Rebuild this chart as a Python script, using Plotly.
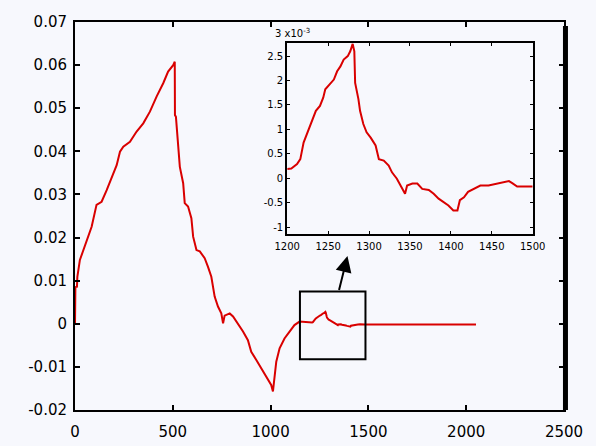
import plotly.graph_objects as go

# ---- data ----
sample_index = [0, 2, 10, 12, 25, 43, 60, 85, 110, 136, 162, 187, 213, 230, 247, 281, 315, 349,
                383, 417, 451, 476, 502, 510, 511, 516, 527, 536, 553, 561, 578, 595, 604, 621,
                638, 663, 680, 697, 714, 731, 748, 757, 765, 791, 808, 833, 859, 884, 901, 927,
                952, 978, 1003, 1012, 1029, 1046, 1071, 1097, 1122, 1148,
                1200, 1205, 1212, 1216, 1220, 1224, 1228, 1231, 1235, 1240, 1244, 1246.5, 1252,
                1257, 1261, 1265, 1269, 1274, 1277, 1280, 1282, 1283, 1287, 1289, 1293, 1297,
                1302, 1308, 1312, 1318, 1324, 1328, 1334, 1340, 1344, 1346.5, 1353, 1359, 1365,
                1373, 1379, 1385, 1391, 1397, 1403, 1408, 1411, 1416, 1421, 1428, 1436, 1446,
                1457, 1465, 1471, 1475, 1481, 1500, 2050]
amplitude = [0.0, 0.0085, 0.0086, 0.0109, 0.0148, 0.0171, 0.0194, 0.0225, 0.0276, 0.0283,
             0.0310, 0.0337, 0.0368, 0.0399, 0.0411, 0.0422, 0.0446, 0.0465, 0.0492, 0.0527,
             0.0558, 0.0585, 0.0600, 0.0608, 0.0484, 0.0480, 0.0419, 0.0364, 0.0326, 0.0280,
             0.0272, 0.0245, 0.0202, 0.0171, 0.0168, 0.0152, 0.0132, 0.0109, 0.0063, 0.0040,
             0.0024, 0.0001, 0.0019, 0.0024, 0.0017, 0.0001, -0.0018, -0.0038, -0.0065,
             -0.0084, -0.0103, -0.0126, -0.0142, -0.0157, -0.0088, -0.0057, -0.0034, -0.0018,
             -0.0003, 0.0005,
             0.00019, 0.00020, 0.00029, 0.00039, 0.00073, 0.00090, 0.00107, 0.00121, 0.00138,
             0.00148, 0.00165, 0.00182, 0.00192, 0.00202, 0.00219, 0.00229, 0.00243, 0.00250,
             0.00260, 0.00275, 0.00260, 0.00195, 0.00162, 0.00138, 0.00111, 0.00094, 0.00083,
             0.00067, 0.00039, 0.00036, 0.00026, 0.00012, -0.00001, -0.00018, -0.00032,
             -0.00015, -0.00011, -0.00011, -0.00022, -0.00024, -0.00032, -0.00042, -0.00049,
             -0.00056, -0.00066, -0.00066, -0.00045, -0.00039, -0.00028, -0.00022, -0.00015,
             -0.00015, -0.00011, -0.00008, -0.00006, -0.00010, -0.00017, -0.00017, -0.00017]

main_x_ticks = [0, 500, 1000, 1500, 2000, 2500]
main_x_labels = ["0", "500", "1000", "1500", "2000", "2500"]
main_y_ticks = [0.07, 0.06, 0.05, 0.04, 0.03, 0.02, 0.01, 0.0, -0.01, -0.02]
main_y_labels = ["0.07", "0.06", "0.05", "0.04", "0.03", "0.02", "0.01", "0", "-0.01", "-0.02"]
inset_x_ticks = [1200, 1250, 1300, 1350, 1400, 1450, 1500]
inset_x_labels = ["1200", "1250", "1300", "1350", "1400", "1450", "1500"]
inset_y_ticks = [-1, -0.5, 0, 0.5, 1, 1.5, 2, 2.5]
inset_y_labels = ["-1", "-0.5", "0", "0.5", "1", "1.5", "2", "2.5"]
inset_scale = 1e-3  # inset y values shown in units of x10^-3
zoom_box = dict(x0=1150, x1=1485, y0=-0.0082, y1=0.0075)

RED = "#d90000"
BG = "#f7f8fd"
FONT = "DejaVu Sans"

fig = go.Figure()
fig.add_trace(go.Scatter(x=sample_index, y=amplitude, mode="lines",
                         line=dict(color=RED, width=2), xaxis="x", yaxis="y",
                         showlegend=False, hoverinfo="skip"))
ins_x = [x for x in sample_index if 1195 <= x <= 1500]
ins_y = [y / inset_scale for x, y in zip(sample_index, amplitude) if 1195 <= x <= 1500]
fig.add_trace(go.Scatter(x=ins_x, y=ins_y, mode="lines",
                         line=dict(color=RED, width=2), xaxis="x2", yaxis="y2",
                         showlegend=False, hoverinfo="skip"))

axis_common = dict(showline=True, linecolor="black", mirror="allticks", ticks="inside",
                   tickcolor="black", showgrid=False, zeroline=False, automargin=False)

fig.update_layout(
    width=596, height=446,
    margin=dict(l=75, r=32, t=22, b=36, autoexpand=False),
    paper_bgcolor=BG, plot_bgcolor=BG,
    font=dict(family=FONT, color="black"),
    xaxis=dict(domain=[0, 1], range=[0, 2500], tickvals=main_x_ticks, ticktext=main_x_labels,
               linewidth=2, ticklen=5, tickwidth=1.5, tickfont=dict(size=15),
               ticklabelstandoff=7, **axis_common),
    yaxis=dict(domain=[0, 1], range=[-0.02, 0.07], tickvals=main_y_ticks, ticktext=main_y_labels,
               linewidth=2, ticklen=5, tickwidth=1.5, tickfont=dict(size=15),
               ticklabelstandoff=3, **axis_common),
    xaxis2=dict(domain=[0.434, 0.936], range=[1200, 1500], anchor="y2",
                tickvals=inset_x_ticks, ticktext=inset_x_labels, linewidth=2, ticklen=3,
                tickwidth=1.2, tickfont=dict(size=10), ticklabelstandoff=2, **axis_common),
    yaxis2=dict(domain=[0.454, 0.946], range=[-1.14, 2.77], anchor="x2",
                tickvals=inset_y_ticks, ticktext=inset_y_labels, linewidth=2, ticklen=3,
                tickwidth=1.2, tickfont=dict(size=10), ticklabelstandoff=0, **axis_common),
)

# zoom rectangle on main axes
fig.add_shape(type="rect", xref="x", yref="y", line=dict(color="black", width=2),
              fillcolor="rgba(0,0,0,0)", **zoom_box)
# thick right edge (shadow) of main frame
fig.add_shape(type="line", xref="paper", yref="paper", x0=1.003, x1=1.003, y0=0, y1=0.99,
              line=dict(color="black", width=5))

# arrow from box to inset
fig.add_annotation(x=1393, y=0.0157, xref="x", yref="y",
                   ax=1348, ay=zoom_box["y1"], axref="x", ayref="y",
                   showarrow=True, arrowhead=2, arrowsize=1.6, arrowwidth=2,
                   arrowcolor="black", text="")
# exponent label of inset
fig.add_annotation(x=0.434, y=0.946, xref="paper", yref="paper", xanchor="left",
                   yanchor="bottom", yshift=2, xshift=-14, showarrow=False,
                   text="3 x10<sup>-3</sup>", font=dict(size=10, family=FONT))

fig.write_html("out.html", config={"displayModeBar": False},
               post_script="document.body.style.margin='0';document.body.style.background='%s';" % BG)
